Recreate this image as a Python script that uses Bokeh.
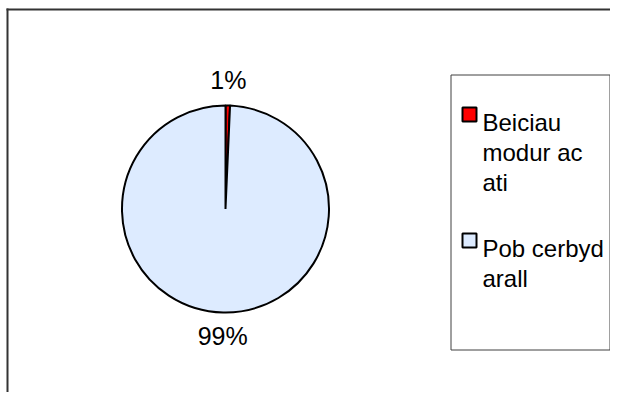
import math
from bokeh.plotting import figure
from bokeh.models import Range1d, ColumnDataSource
from bokeh.embed import file_html
from bokeh.resources import INLINE
from bokeh.core.properties import value

# ---- data ----
categories = ["Beiciau\nmodur ac\nati", "Pob cerbyd\narall"]
shares = [0.7, 99.3]
colors = ["#FF0000", "#DDEBFF"]

FONT = value("Liberation Sans")

W, H = 610, 392
p = figure(width=W, height=H, output_backend="svg", toolbar_location=None,
           x_range=Range1d(0, W), y_range=Range1d(0, H),
           min_border=0)
p.axis.visible = False
p.grid.visible = False
p.outline_line_color = None
p.background_fill_color = "white"
p.border_fill_color = "white"

def Y(py):
    return H - py

# outer frame (top and left edges visible)
p.segment(x0=[6, 7], y0=[Y(9), Y(8)], x1=[W, 7], y1=[Y(9), 0],
          line_color="#333333", line_width=2)

# ---- pie ----
total = sum(shares)
starts, ends, mids = [], [], []
cur = math.pi / 2
for s in shares:
    a = s / total * 2 * math.pi
    ends.append(cur)
    starts.append(cur - a)
    mids.append(cur - a / 2)
    cur -= a

cx, cy, r = 225, Y(208.5), 103.5
src = ColumnDataSource(dict(start=starts, end=ends, color=colors))
p.wedge(x=cx, y=cy, radius=r, radius_units="screen", start_angle="start", end_angle="end",
        fill_color="color", line_color="black", line_width=2, source=src)

lr = 128.5
pct = [f"{round(s / total * 100)}%" for s in shares]
lsrc = ColumnDataSource(dict(x=[cx + lr * math.cos(m) for m in mids],
                             y=[cy + lr * math.sin(m) for m in mids], t=pct))
p.text(x="x", y="y", text="t", source=lsrc, text_align="center", text_baseline="middle",
       text_font=FONT, text_font_size="25px", text_color="black", y_offset=-1)

# ---- legend ----
p.quad(left=450.5, right=609.5, top=Y(74.5), bottom=Y(349.5), fill_color="white",
       line_color="#404040", line_width=1)

entry_gap = 126
line_gap = 30
sq_x, sq_y = [], []
lx, ly, lt = [], [], []
for i, cat in enumerate(categories):
    base = 122 + entry_gap * i
    sq_x.append(469)
    sq_y.append(Y(base - 8))
    for j, line in enumerate(cat.split("\n")):
        lx.append(482)
        ly.append(Y(base + line_gap * j))
        lt.append(line)

p.rect(x=sq_x, y=sq_y, width=14, height=14, width_units="screen", height_units="screen",
       fill_color=colors, line_color="black", line_width=2)
p.text(x=lx, y=ly, text=lt, text_align="left", text_baseline="alphabetic",
       text_font=FONT, text_font_size="24px", text_color="black")

open("out.html", "w").write(file_html(p, INLINE))
